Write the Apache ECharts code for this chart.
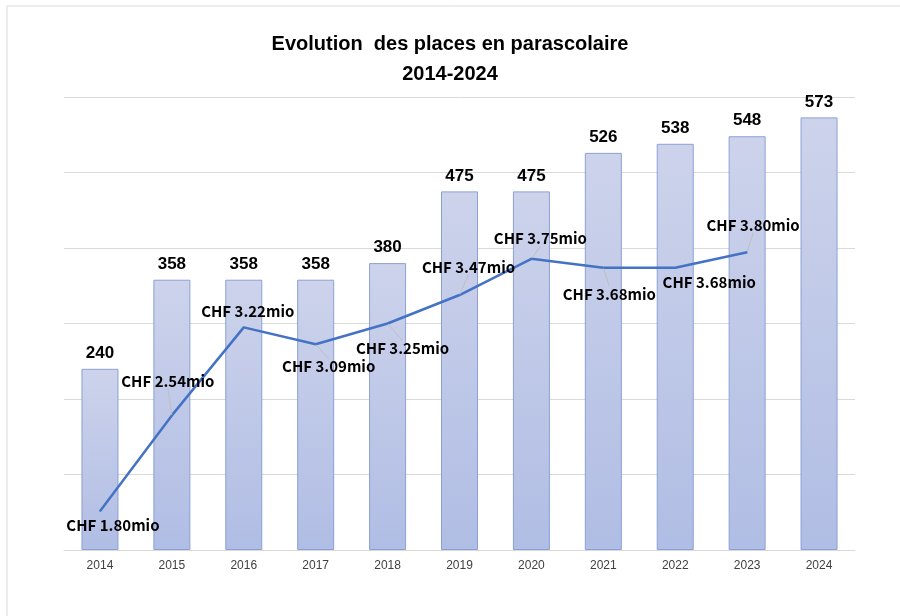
<!DOCTYPE html>
<html>
<head>
<meta charset="utf-8">
<script src="https://cdn.jsdelivr.net/npm/echarts@6/dist/echarts.min.js"></script>
<style>
  html, body { margin: 0; padding: 0; background: #fff; }
  #chart { width: 900px; height: 616px; }
</style>
</head>
<body>
<div id="chart"></div>
<script>
// données
var years = ['2014', '2015', '2016', '2017', '2018', '2019', '2020', '2021', '2022', '2023', '2024'];
var places = [240, 358, 358, 358, 380, 475, 475, 526, 538, 548, 573];   // places
var budget = [1.80, 2.54, 3.22, 3.09, 3.25, 3.47, 3.75, 3.68, 3.68, 3.80, null]; // CHF mio

// décalage des étiquettes de la courbe (en px)
var labelOffsets = [[13, 14], [-4, -34], [4, -16], [13, 22], [15, 25], [9, -28], [9, -20], [6, 26], [34, 14], [6, -27]];
var leaderShown = [false, true, false, true, true, true, true, true, false, true];

var myChart = echarts.init(document.getElementById('chart'));

var lineData = budget.map(function (v, i) {
    if (v === null) return null;
    return {
        value: v,
        label: { offset: labelOffsets[i] },
        labelLine: { show: leaderShown[i] }
    };
});

var option = {
    animation: false,
    title: {
        text: 'Evolution  des places en parascolaire\n2014-2024',
        left: 'center',
        top: 24,
        textStyle: {
            fontFamily: 'Liberation Sans Narrow, Liberation Sans, sans-serif',
            fontWeight: 'bold',
            fontSize: 20,
            lineHeight: 30,
            color: '#000'
        }
    },
    graphic: [
        { type: 'line', shape: { x1: 7, y1: 6, x2: 900, y2: 6 }, style: { stroke: '#d9d9d9', lineWidth: 1 } },
        { type: 'line', shape: { x1: 7, y1: 6, x2: 7, y2: 616 }, style: { stroke: '#d9d9d9', lineWidth: 1 } }
    ],
    grid: {
        top: 97,
        bottom: 66,
        left: 64,
        right: 45
    },
    xAxis: {
        type: 'category',
        data: years,
        axisTick: { show: false },
        axisLine: { lineStyle: { color: '#d9d9d9', width: 1 } },
        axisLabel: {
            fontFamily: 'Liberation Sans, Arial, sans-serif',
            fontSize: 12,
            color: '#404040',
            margin: 10
        }
    },
    yAxis: [
        {
            type: 'value',
            min: 0,
            max: 600,
            interval: 100,
            axisLabel: { show: false },
            axisLine: { show: false },
            axisTick: { show: false },
            splitLine: { lineStyle: { color: '#d9d9d9', width: 1 } }
        },
        {
            type: 'value',
            min: 1.5,
            max: 5,
            interval: 0.5,
            show: false,
            splitLine: { show: false }
        }
    ],
    series: [
        {
            name: 'Places',
            type: 'bar',
            data: places,
            barWidth: 37,
            itemStyle: {
                color: new echarts.graphic.LinearGradient(0, 0, 0, 1, [
                    { offset: 0, color: '#cdd3eb' },
                    { offset: 1, color: '#b0bde4' }
                ]),
                borderColor: '#8ca0d6',
                borderWidth: 1
            },
            label: {
                show: true,
                position: 'top',
                distance: 7,
                fontFamily: 'Liberation Sans, Arial, sans-serif',
                fontWeight: 'bold',
                fontSize: 17,
                color: '#000'
            }
        },
        {
            name: 'Budget',
            type: 'line',
            yAxisIndex: 1,
            data: lineData,
            symbol: 'circle',
            symbolSize: 1,
            lineStyle: { color: '#4472c4', width: 2.5 },
            itemStyle: { color: '#4472c4' },
            label: {
                show: true,
                position: 'inside',
                align: 'center',
                verticalAlign: 'middle',
                fontFamily: 'Noto Sans CJK KR, sans-serif',
                fontWeight: 'bold',
                fontSize: 15,
                color: '#000',
                formatter: function (p) {
                    return 'CHF ' + p.value.toFixed(2) + 'mio';
                }
            },
            labelLine: {
                show: true,
                lineStyle: { color: '#bfbfbf', width: 1 }
            }
        }
    ]
};

myChart.setOption(option);
</script>
</body>
</html>
